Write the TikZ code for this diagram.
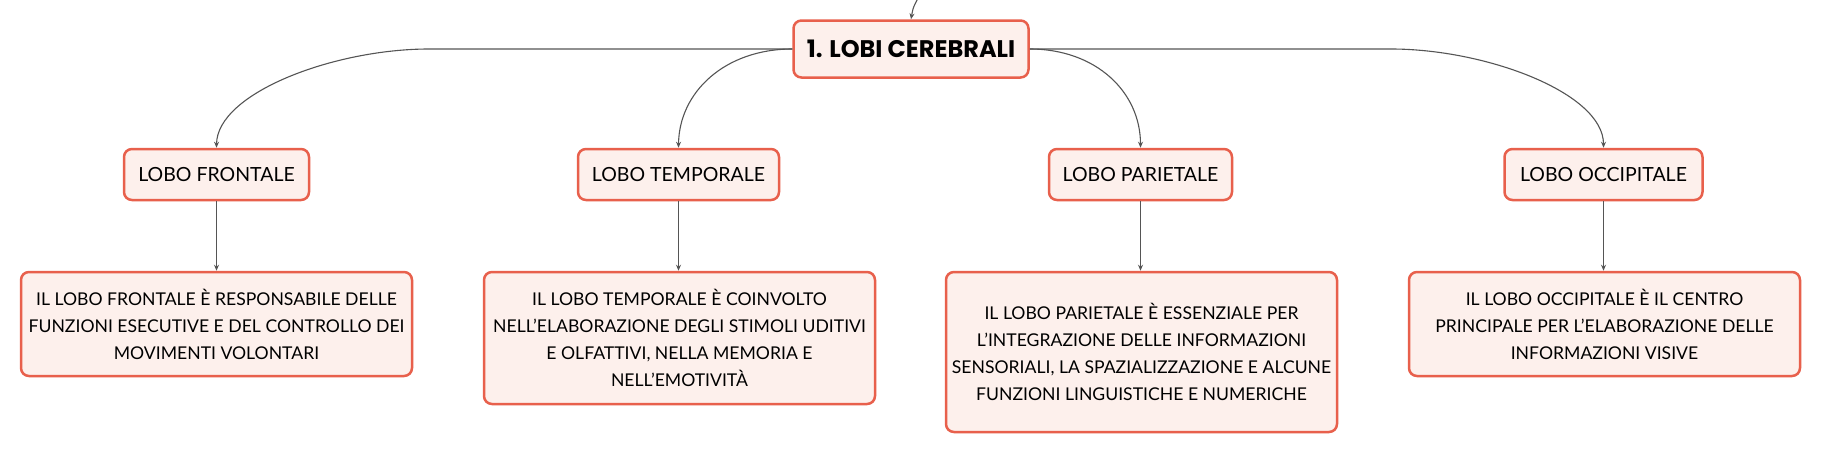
\documentclass[tikz,border=0pt]{standalone}
\usepackage{fontspec}
\setmainfont{Lato}
\newfontfamily\rootfont{Poppins}
\usetikzlibrary{arrows.meta}
\definecolor{boxfill}{HTML}{FDF0EC}
\definecolor{boxline}{HTML}{E8604C}
\definecolor{linkgray}{HTML}{555555}
\tikzset{
 base/.style={draw=boxline, fill=boxfill, line width=2.5pt, rounded corners=8pt, align=center, inner sep=0pt},
 rootbox/.style={base, minimum width=235pt, minimum height=57pt, font=\rootfont\fontsize{24}{29}\selectfont\bfseries},
 lobebox/.style={base, minimum height=51pt, font=\fontsize{19.5}{24}\selectfont},
 descbox/.style={base, minimum width=391pt, font=\fontsize{17.6}{27}\selectfont},
 link/.style={draw=linkgray, line width=1.1pt, -{Stealth[length=6pt,width=5pt]}},
}
\begin{document}
\begin{tikzpicture}[x=1pt,y=-1pt]
\fill[white] (0,0) rectangle (1821,455);
\useasboundingbox (0,0) rectangle (1821,455);

\node[rootbox] (root) at (911,49) {1. LOBI CEREBRALI};

\node[lobebox, minimum width=185pt] (frontale) at (216.5,174.5) {LOBO FRONTALE};
\node[lobebox, minimum width=201pt] (temporale) at (678.5,174.5) {LOBO TEMPORALE};
\node[lobebox, minimum width=183pt] (parietale) at (1140.5,174.5) {LOBO PARIETALE};
\node[lobebox, minimum width=198pt] (occipitale) at (1603.5,174.5) {LOBO OCCIPITALE};

\node[descbox, minimum height=104pt] (fdesc) at (216.5,324) {IL LOBO FRONTALE È RESPONSABILE DELLE\\FUNZIONI ESECUTIVE E DEL CONTROLLO DEI\\MOVIMENTI VOLONTARI};
\node[descbox, minimum height=132pt] (tdesc) at (679.5,338) {IL LOBO TEMPORALE È COINVOLTO\\NELL’ELABORAZIONE DEGLI STIMOLI UDITIVI\\E OLFATTIVI, NELLA MEMORIA E\\NELL’EMOTIVITÀ};
\node[descbox, minimum height=160pt] (pdesc) at (1141.5,352) {IL LOBO PARIETALE È ESSENZIALE PER\\L’INTEGRAZIONE DELLE INFORMAZIONI\\SENSORIALI, LA SPAZIALIZZAZIONE E ALCUNE\\FUNZIONI LINGUISTICHE E NUMERICHE};
\node[descbox, minimum height=104pt] (odesc) at (1604.5,324) {IL LOBO OCCIPITALE È IL CENTRO\\PRINCIPALE PER L’ELABORAZIONE DELLE\\INFORMAZIONI VISIVE};

\coordinate (topin) at (917,0);
\draw[link] (topin) .. controls (913,8) .. (root.north);

\draw[link] (root.west) -- (429,49) .. controls (334,49) and (217,93) .. (frontale.north);
\draw[link] (root.west) .. controls (725,49) and (679,92) .. (temporale.north);
\draw[link] (root.east) .. controls (1096,49) and (1140.5,92) .. (parietale.north);
\draw[link] (root.east) -- (1391,49) .. controls (1486,49) and (1603.5,93) .. (occipitale.north);

\draw[link] (frontale.south) -- (frontale.south |- fdesc.north);
\draw[link] (temporale.south) -- (temporale.south |- tdesc.north);
\draw[link] (parietale.south) -- (parietale.south |- pdesc.north);
\draw[link] (occipitale.south) -- (occipitale.south |- odesc.north);
\end{tikzpicture}
\end{document}
